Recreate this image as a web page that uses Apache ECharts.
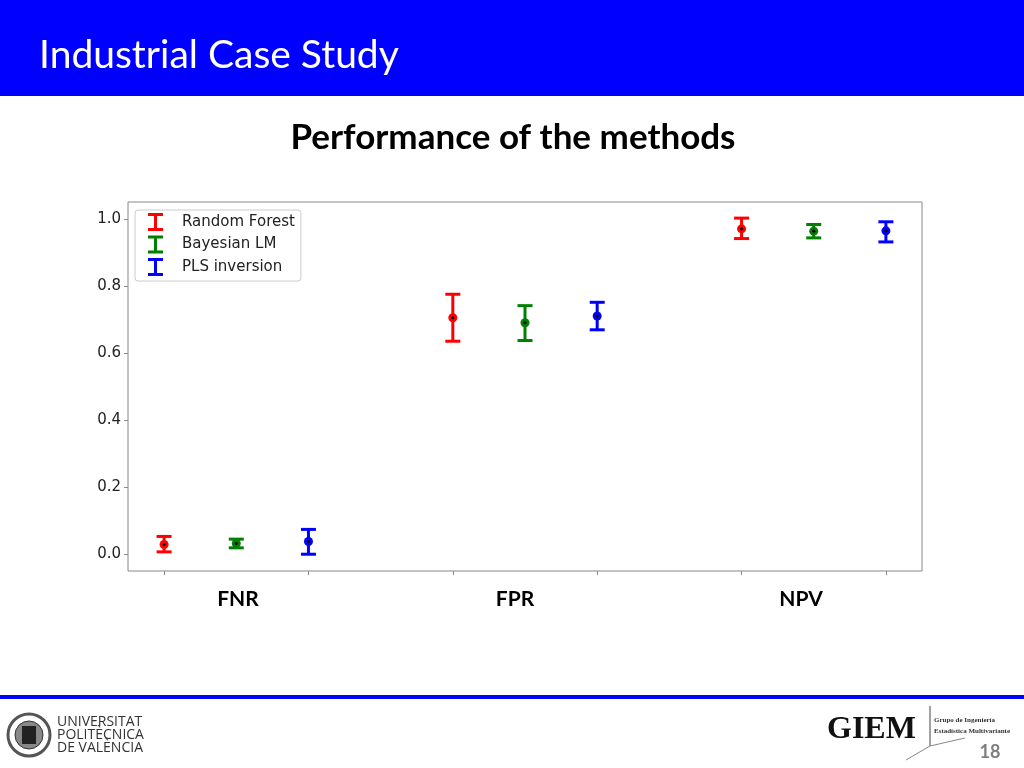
<!DOCTYPE html>
<html>
<head>
<meta charset="utf-8">
<script src="https://cdn.jsdelivr.net/npm/echarts@6/dist/echarts.min.js"></script>
<style>
  html, body { margin: 0; padding: 0; background: #fff; }
  #chart { width: 1024px; height: 768px; }
</style>
</head>
<body>
<div id="chart"></div>
<script>
// metric groups and methods
var categories = ['FNR', 'FPR', 'NPV'];
var methods = ['Random Forest', 'Bayesian LM', 'PLS inversion'];
var colors = ['#ff0000', '#008000', '#0000ff'];

// mean and interval ends, one entry per metric
var meanRF = [0.029, 0.705, 0.970];
var lowRF = [0.007, 0.635, 0.941];
var highRF = [0.053, 0.775, 1.002];

var meanBLM = [0.032, 0.690, 0.963];
var lowBLM = [0.019, 0.637, 0.943];
var highBLM = [0.045, 0.741, 0.983];

var meanPLS = [0.038, 0.710, 0.964];
var lowPLS = [0.000, 0.669, 0.931];
var highPLS = [0.074, 0.751, 0.991];

var yTicks = [0, 0.2, 0.4, 0.6, 0.8, 1.0];
var xTicks = [0, 2, 4, 6, 8, 10];

var means = [meanRF, meanBLM, meanPLS];
var lows = [lowRF, lowBLM, lowPLS];
var highs = [highRF, highBLM, highPLS];

// I-beam icon like matplotlib errorbar legend handle
var beam = 'path://M0,0H15V3H9V15H15V18H0V15H6V3H0Z';

function renderBar(params, api) {
  var x = api.value(0);
  var c = api.coord([x, api.value(1)]);
  var lo = api.coord([x, api.value(2)]);
  var hi = api.coord([x, api.value(3)]);
  var col = api.visual('color');
  var half = 7.5;
  var st = { stroke: col, lineWidth: 3 };
  return {
    type: 'group',
    children: [
      { type: 'line', shape: { x1: c[0], y1: lo[1], x2: c[0], y2: hi[1] }, style: st },
      { type: 'line', shape: { x1: c[0] - half, y1: hi[1], x2: c[0] + half, y2: hi[1] }, style: st },
      { type: 'line', shape: { x1: c[0] - half, y1: lo[1], x2: c[0] + half, y2: lo[1] }, style: st },
      { type: 'circle', shape: { cx: c[0], cy: c[1], r: 4.5 }, style: { fill: col } },
      { type: 'circle', shape: { cx: c[0], cy: c[1], r: 1.6 }, style: { fill: '#000' } }
    ]
  };
}

var series = methods.map(function (name, m) {
  var data = categories.map(function (cat, g) {
    return [g * 4 + m, means[m][g], lows[m][g], highs[m][g]];
  });
  return {
    name: name,
    type: 'custom',
    renderItem: renderBar,
    itemStyle: { color: colors[m] },
    encode: { x: 0, y: [1, 2, 3] },
    data: data
  };
});

var labelX = [238, 515, 801];

var chart = echarts.init(document.getElementById('chart'));
chart.setOption({
  backgroundColor: '#fff',
  animation: false,
  color: colors,
  grid: {
    left: 128, top: 202, right: 102, bottom: 197,
    show: true, borderColor: '#888', borderWidth: 1, backgroundColor: 'transparent'
  },
  legend: {
    left: 135, top: 210,
    orient: 'vertical',
    icon: beam,
    itemWidth: 15, itemHeight: 18, itemGap: 4.5,
    padding: [3, 6, 5, 13],
    backgroundColor: 'rgba(255,255,255,0.8)',
    borderColor: '#ccc', borderWidth: 1, borderRadius: 3,
    textStyle: { fontFamily: 'DejaVu Sans', fontSize: 15, color: '#222', padding: [0, 0, 0, 14] },
    data: methods
  },
  xAxis: {
    type: 'value', min: -0.5, max: 10.5,
    splitLine: { show: false },
    axisLine: { show: false, onZero: false },
    axisTick: { show: true, customValues: xTicks, length: 4, lineStyle: { color: '#888' } },
    axisLabel: { show: false }
  },
  yAxis: {
    type: 'value', min: -0.05, max: 1.05,
    splitLine: { show: false },
    axisLine: { show: false, onZero: false },
    axisTick: { show: true, customValues: yTicks, length: 4, lineStyle: { color: '#888' } },
    axisLabel: {
      customValues: yTicks, margin: 7,
      fontFamily: 'DejaVu Sans', fontSize: 15, color: '#222',
      formatter: function (v) { return v.toFixed(1); }
    }
  },
  graphic: [
    { type: 'rect', shape: { x: 0, y: 0, width: 1024, height: 96 }, style: { fill: '#0000ff' } },
    { type: 'text', x: 39, y: 55, style: { text: 'Industrial Case Study', fill: '#fff', font: '39px Lato', verticalAlign: 'middle' } },
    { type: 'text', x: 513, y: 138, style: { text: 'Performance of the methods', fill: '#000', font: 'bold 35px Lato', align: 'center', verticalAlign: 'middle' } },
    { type: 'text', x: labelX[0], y: 599, style: { text: categories[0], fill: '#000', font: 'bold 21px Lato', align: 'center', verticalAlign: 'middle' } },
    { type: 'text', x: labelX[1], y: 599, style: { text: categories[1], fill: '#000', font: 'bold 21px Lato', align: 'center', verticalAlign: 'middle' } },
    { type: 'text', x: labelX[2], y: 599, style: { text: categories[2], fill: '#000', font: 'bold 21px Lato', align: 'center', verticalAlign: 'middle' } },
    { type: 'rect', shape: { x: 0, y: 695, width: 1024, height: 4 }, style: { fill: '#0000ff' } },
    { type: 'circle', shape: { cx: 29, cy: 735, r: 21 }, style: { fill: '#fff', stroke: '#555', lineWidth: 3 } },
    { type: 'circle', shape: { cx: 29, cy: 735, r: 14 }, style: { fill: '#888', stroke: '#333', lineWidth: 1 } },
    { type: 'rect', shape: { x: 22, y: 726, width: 14, height: 18 }, style: { fill: '#222' } },
    { type: 'text', x: 57, y: 722, style: { text: 'UNIVERSITAT', fill: '#333', font: '14px "Open Sans"', verticalAlign: 'middle' } },
    { type: 'text', x: 57, y: 735, style: { text: 'POLITÈCNICA', fill: '#333', font: '14px "Open Sans"', verticalAlign: 'middle' } },
    { type: 'text', x: 57, y: 748, style: { text: 'DE VALÈNCIA', fill: '#333', font: '14px "Open Sans"', verticalAlign: 'middle' } },
    { type: 'text', x: 827, y: 730, style: { text: 'GIEM', fill: '#111', font: 'bold 32px "Liberation Serif"', verticalAlign: 'middle' } },
    { type: 'line', shape: { x1: 930, y1: 706, x2: 930, y2: 746 }, style: { stroke: '#444', lineWidth: 1 } },
    { type: 'line', shape: { x1: 930, y1: 746, x2: 965, y2: 738 }, style: { stroke: '#888', lineWidth: 1 } },
    { type: 'line', shape: { x1: 930, y1: 746, x2: 906, y2: 760 }, style: { stroke: '#888', lineWidth: 1 } },
    { type: 'text', x: 934, y: 720, style: { text: 'Grupo de Ingeniería', fill: '#333', font: 'bold 7px "Liberation Serif"', verticalAlign: 'middle' } },
    { type: 'text', x: 934, y: 731, style: { text: 'Estadística Multivariante', fill: '#333', font: 'bold 7px "Liberation Serif"', verticalAlign: 'middle' } },
    { type: 'text', x: 990, y: 752, style: { text: '18', fill: '#7f7f7f', font: 'bold 18px Lato', align: 'center', verticalAlign: 'middle' } }
  ],
  series: series
});
</script>
</body>
</html>
